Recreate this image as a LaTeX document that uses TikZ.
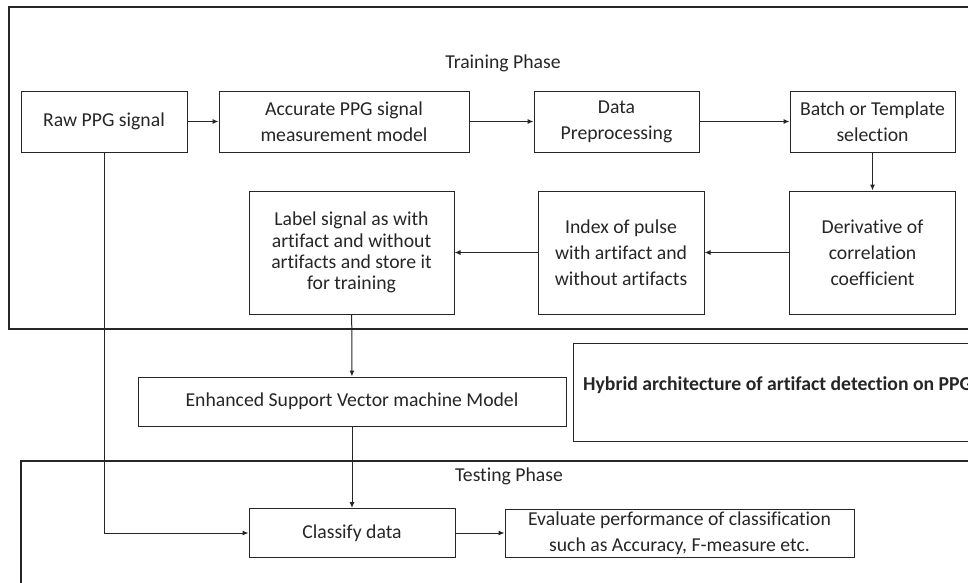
\documentclass[tikz,border=0pt]{standalone}
\usepackage{fontspec}
\setmainfont{Carlito}[Ligatures={NoCommon,NoContextual}]
\usetikzlibrary{arrows.meta}
\definecolor{ink}{HTML}{262626}
\begin{document}
\begin{tikzpicture}[x=1pt,y=-1pt,
  box/.style={draw=ink, line width=1pt, inner sep=0pt, align=center, text=ink,
    font=\fontsize{19.7}{26}\selectfont},
  conn/.style={draw=ink, line width=1pt, -{Latex[length=6pt,width=5pt]}},
  frame/.style={draw=ink, line width=1.2pt},
  title/.style={text=ink, inner sep=0pt, font=\fontsize{19.7}{24}\selectfont}
]
\useasboundingbox (0,0) rectangle (968,582);
\clip (0,0) rectangle (968,582);
\fill[white] (0,0) rectangle (968,582);

% frames
\draw[frame] (9,7) rectangle (1000,329);
\draw[ink, line width=2pt] (9,7) -- (1000,7);
\node[title] (train) at (503,63) {Training Phase};
\draw[frame] (21,461) rectangle (1000,700);
\node[title] (test) at (509,476) {Testing Phase};

% row 1
\node[box, minimum width=166pt, minimum height=61pt] (raw) at (104,121.5) {Raw PPG signal};
\node[box, minimum width=250pt, minimum height=61pt] (acc) at (344,121.5) {Accurate PPG signal\\measurement model};
\node[box, minimum width=165pt, minimum height=61pt] (data) at (616.5,121.5) {Data\\Preprocessing};
\node[box, minimum width=165pt, minimum height=61pt] (batch) at (872.5,121.5) {Batch or Template\\selection};

% row 2
\node[box, minimum width=166pt, minimum height=123pt] (deriv) at (872.5,252.5) {Derivative of\\correlation\\coefficient};
\node[box, minimum width=166pt, minimum height=123pt] (index) at (621,252.5) {Index of pulse\\with artifact and\\without artifacts};
\node[box, minimum width=205pt, minimum height=123pt, font=\fontsize{19.7}{21.3}\selectfont] (label) at (351.5,252.5) {Label signal as with\\artifact and without\\artifacts and store it\\for training};

% middle
\node[box, minimum width=428pt, minimum height=49pt] (esvm) at (352,401.5) {Enhanced Support Vector machine Model};
\draw[frame, line width=1pt] (573,343) rectangle (1000,441);
\node[title, anchor=west, font=\fontsize{19.7}{24}\selectfont\bfseries] (hyb) at (583,385) {Hybrid architecture of artifact detection on PPG};

% testing
\node[box, minimum width=206pt, minimum height=49pt] (classify) at (352,533) {Classify data};
\node[box, minimum width=349pt, minimum height=48pt] (eval) at (679.5,533) {Evaluate performance of classification\\such as Accuracy, F-measure etc.};

% connectors
\draw[conn] (raw) -- (acc);
\draw[conn] (acc) -- (data);
\draw[conn] (data) -- (batch);
\draw[conn] (batch) -- (deriv);
\draw[conn] (deriv) -- (index);
\draw[conn] (index) -- (label);
\draw[conn] (label) -- (esvm);
\draw[conn] (esvm) -- (classify);
\draw[conn] (classify) -- (eval);
\draw[conn] (raw.south) |- (classify.west);
\end{tikzpicture}
\end{document}
